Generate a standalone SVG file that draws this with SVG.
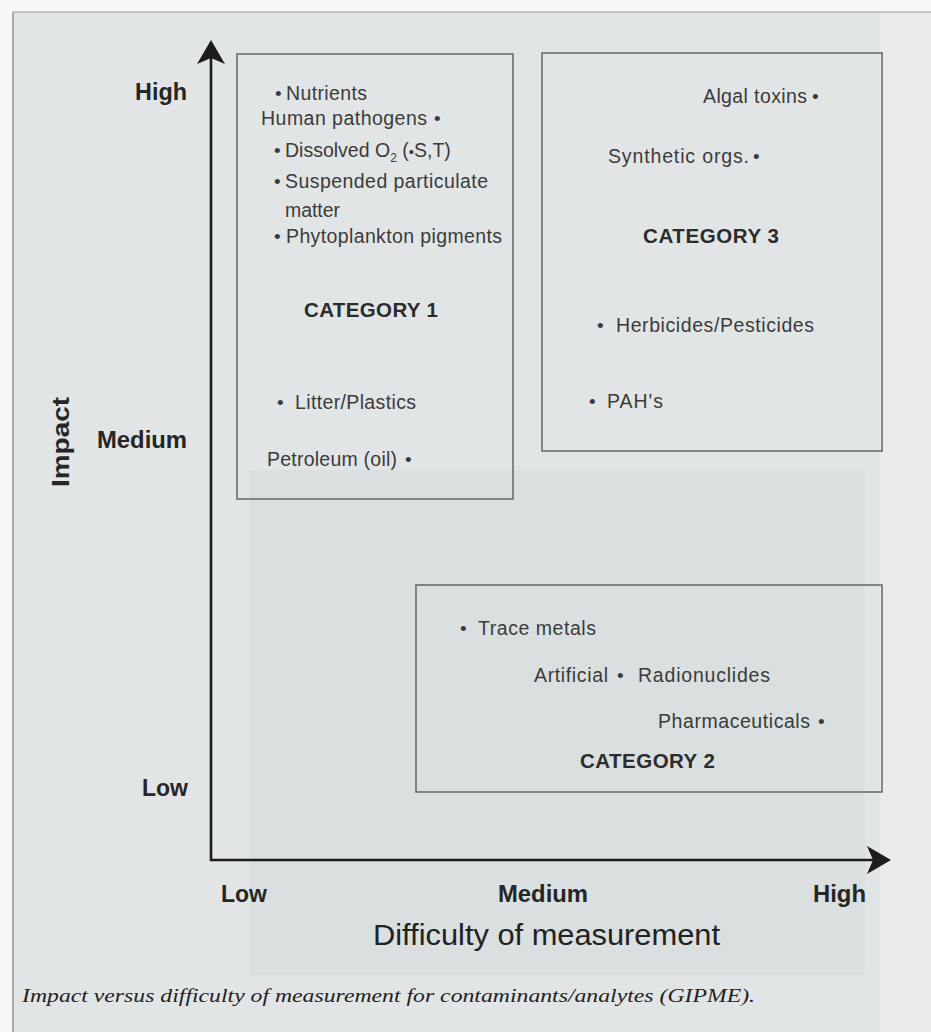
<svg xmlns="http://www.w3.org/2000/svg" width="931" height="1032" viewBox="0 0 931 1032">
<defs>
<style>
.bg{fill:#e2e5e5}
.box{fill:none;stroke:#6b6d6d;stroke-width:1.6}
.item{font-family:"Liberation Sans",Arial,sans-serif;font-size:19.5px;fill:#3b3b3b}
.bul{font-family:"Liberation Sans",Arial,sans-serif;font-size:19px;fill:#3b3b3b}
.cat{font-family:"Liberation Sans",Arial,sans-serif;font-size:20.5px;font-weight:bold;fill:#2c2c2c}
.ax{font-family:"Liberation Sans",Arial,sans-serif;font-size:23px;font-weight:bold;fill:#262626}
.axt{font-family:"Liberation Sans",Arial,sans-serif;font-size:30px;fill:#222}
.cap{font-family:"Liberation Serif","Times New Roman",serif;font-size:19px;font-style:italic;fill:#222}
.axis{fill:none;stroke:#1c1c1c;stroke-width:2.6}
</style>
<marker id="arr" viewBox="0 0 24 28" refX="18" refY="14" markerWidth="24" markerHeight="28" markerUnits="userSpaceOnUse" orient="auto-start-reverse">
<path d="M0,0 L24,14 L0,28 L6,14 Z" fill="#1c1c1c"/>
</marker>
</defs>

<g id="background">
<rect x="0" y="0" width="931" height="1032" fill="#f6f7f7"/>
<rect class="bg" x="13" y="12" width="918" height="1020"/>
<rect x="880" y="12" width="51" height="1020" fill="#eaecec"/>
<rect x="250" y="470" width="615" height="505" fill="#dadfe0"/>
<line x1="13" y1="12" x2="931" y2="12" stroke="#9a9c9c" stroke-width="1.2"/>
<line x1="13" y1="12" x2="13" y2="1032" stroke="#8a8c8c" stroke-width="1.4"/>
</g>

<g id="connectors">
<path class="axis" d="M211,46 V860 H885" marker-start="url(#arr)" marker-end="url(#arr)"/>
</g>

<g id="category1">
<rect class="box" x="237" y="54" width="276" height="445"/>
<text class="bul" x="275" y="100">•</text>
<text class="item" x="286" y="100" textLength="81" lengthAdjust="spacing">Nutrients</text>
<text class="item" x="261" y="125" textLength="166" lengthAdjust="spacing">Human pathogens</text>
<text class="bul" x="434" y="125">•</text>
<text class="bul" x="274" y="157">•</text>
<text class="item" x="285" y="157">Dissolved O<tspan font-size="12" dy="5">2</tspan><tspan dy="-5"> (</tspan><tspan font-size="15">•</tspan>S,T)</text>
<text class="bul" x="274" y="188">•</text>
<text class="item" x="285" y="188" textLength="203" lengthAdjust="spacing">Suspended particulate</text>
<text class="item" x="285" y="217" textLength="55" lengthAdjust="spacing">matter</text>
<text class="bul" x="274" y="243">•</text>
<text class="item" x="286" y="243" textLength="216" lengthAdjust="spacing">Phytoplankton pigments</text>
<text class="cat" x="304" y="317" textLength="134" lengthAdjust="spacing">CATEGORY 1</text>
<text class="bul" x="277" y="409">•</text>
<text class="item" x="295" y="409" textLength="121" lengthAdjust="spacing">Litter/Plastics</text>
<text class="item" x="267" y="466" textLength="130" lengthAdjust="spacing">Petroleum (oil)</text>
<text class="bul" x="405" y="466">•</text>
</g>

<g id="category3">
<rect class="box" x="542" y="53" width="340" height="398"/>
<text class="item" x="703" y="103" textLength="104" lengthAdjust="spacing">Algal toxins</text>
<text class="bul" x="812" y="103">•</text>
<text class="item" x="608" y="163" textLength="141" lengthAdjust="spacing">Synthetic orgs.</text>
<text class="bul" x="753" y="163">•</text>
<text class="cat" x="643" y="243" textLength="136" lengthAdjust="spacing">CATEGORY 3</text>
<text class="bul" x="597" y="332">•</text>
<text class="item" x="616" y="332" textLength="198" lengthAdjust="spacing">Herbicides/Pesticides</text>
<text class="bul" x="589" y="408">•</text>
<text class="item" x="607" y="408" textLength="56" lengthAdjust="spacing">PAH's</text>
</g>

<g id="category2">
<rect class="box" x="416" y="585" width="466" height="207"/>
<text class="bul" x="460" y="635">•</text>
<text class="item" x="478" y="635" textLength="118" lengthAdjust="spacing">Trace metals</text>
<text class="item" x="534" y="682" textLength="74" lengthAdjust="spacing">Artificial</text>
<text class="bul" x="617" y="682">•</text>
<text class="item" x="638" y="682" textLength="132" lengthAdjust="spacing">Radionuclides</text>
<text class="item" x="658" y="728" textLength="152" lengthAdjust="spacing">Pharmaceuticals</text>
<text class="bul" x="818" y="728">•</text>
<text class="cat" x="580" y="768" textLength="135" lengthAdjust="spacing">CATEGORY 2</text>
</g>

<g id="axis-labels">
<text class="ax" x="135" y="100" textLength="52" lengthAdjust="spacingAndGlyphs">High</text>
<text class="ax" x="97" y="448" textLength="90" lengthAdjust="spacingAndGlyphs">Medium</text>
<text class="ax" x="142" y="796" textLength="46" lengthAdjust="spacingAndGlyphs">Low</text>
<text class="ax" font-size="26" transform="translate(69,442) rotate(-90)" text-anchor="middle" textLength="90" lengthAdjust="spacingAndGlyphs">Impact</text>
<text class="ax" x="221" y="902" textLength="46" lengthAdjust="spacingAndGlyphs">Low</text>
<text class="ax" x="498" y="902" textLength="90" lengthAdjust="spacingAndGlyphs">Medium</text>
<text class="ax" x="813" y="902" textLength="53" lengthAdjust="spacingAndGlyphs">High</text>
<text class="axt" x="373" y="945" textLength="347" lengthAdjust="spacingAndGlyphs">Difficulty of measurement</text>
</g>

<g id="caption">
<text class="cap" x="22" y="1002" textLength="733" lengthAdjust="spacingAndGlyphs">Impact versus difficulty of measurement for contaminants/analytes (GIPME).</text>
</g>
</svg>
